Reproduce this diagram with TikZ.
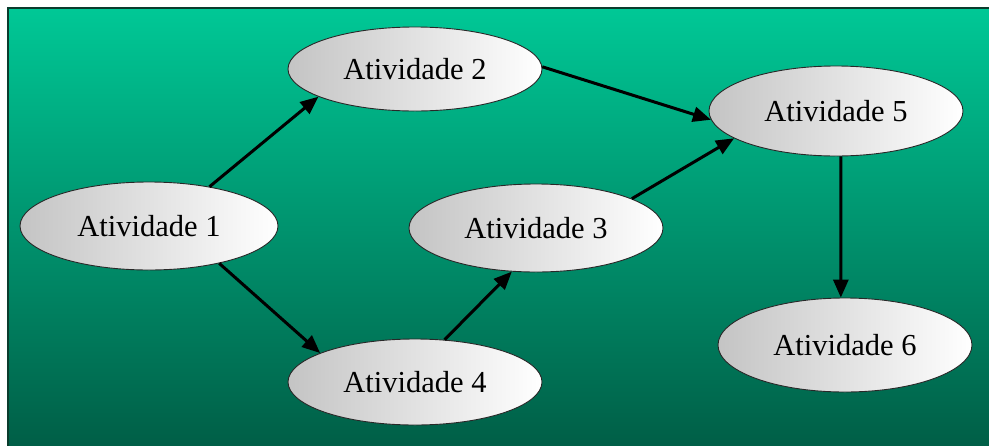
\documentclass[tikz,border=0pt]{standalone}
\usepackage{fontspec}
\setmainfont{Liberation Serif}
\usetikzlibrary{shapes.geometric,arrows.meta}

\definecolor{bgtop}{RGB}{0,200,150}
\definecolor{bgbottom}{RGB}{0,94,70}
\definecolor{frameline}{RGB}{10,60,45}
\definecolor{ovalgray}{RGB}{196,196,196}
\definecolor{ovalmid}{RGB}{226,226,226}
\definecolor{ovaledge}{RGB}{40,40,40}

\tikzset{
  activity/.style={ellipse, draw=ovaledge, line width=0.9pt,
    left color=ovalgray, middle color=ovalmid, right color=white,
    minimum width=254pt, minimum height=88pt, inner sep=0pt,
    font=\fontsize{30.5}{36}\selectfont},
  link/.style={line width=3pt, black,
    -{Triangle[length=18pt,width=15pt]}}
}

\begin{document}
\begin{tikzpicture}[x=1pt,y=-1pt]
  \useasboundingbox (0,0) rectangle (989,445);
  % backdrop panel
  \shade[top color=bgtop, bottom color=bgbottom] (8,8) rectangle (992,448);
  \draw[frameline, line width=1.6pt] (8,448) -- (8,8) -- (992,8);

  % activities
  \node[activity, minimum height=84pt] (a2) at (415,69)  {Atividade 2};
  \node[activity, minimum height=90pt] (a5) at (836,111) {Atividade 5};
  \node[activity, minimum width=258pt] (a1) at (149,226) {Atividade 1};
  \node[activity] (a3) at (536,228) {Atividade 3};
  \node[activity, minimum height=86pt] (a4) at (415,382) {Atividade 4};
  \node[activity, minimum height=94pt] (a6) at (845,345) {Atividade 6};

  % precedence links
  \draw[link] (a1.33)  -- (a2.196);
  \draw[link] (a1.-28) -- (a4.163);
  \draw[link] (a4.55)  -- (a3.241);
  \draw[link] (a3.17)  -- (a5.195);
  \draw[link] (a2.1)   -- (a5.184);
  \draw[link] (a5.-84) -- (a6.95);
\end{tikzpicture}
\end{document}
